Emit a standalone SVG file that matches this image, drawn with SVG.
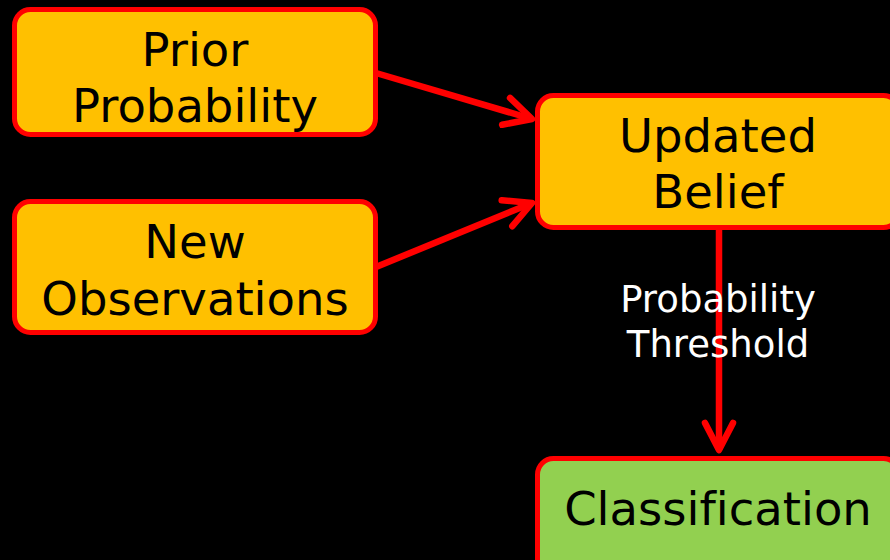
<svg xmlns="http://www.w3.org/2000/svg" width="890" height="560" viewBox="0 0 890 560">
  <style>
    .box { stroke: #FF0000; stroke-width: 5; }
    .yellow { fill: #FFC000; }
    .green { fill: #92D050; }
    .t { font-family: "DejaVu Sans", Verdana, sans-serif; font-size: 46.5px; fill: #000000; text-anchor: middle; font-variant-ligatures: none; }
    .lbl { font-family: "DejaVu Sans", Verdana, sans-serif; font-size: 37px; fill: #FFFFFF; text-anchor: middle; font-variant-ligatures: none; }
    .edge { stroke: #FF0000; stroke-width: 6.5; fill: none; marker-end: url(#arrow); }
  </style>
  <defs>
    <marker id="arrow" markerUnits="userSpaceOnUse" viewBox="-35 -20 40 40" refX="0" refY="0" markerWidth="40" markerHeight="40" orient="auto">
      <path d="M -27,-14 L 0,0 L -27,14" fill="none" stroke="#FF0000" stroke-width="6.5" stroke-linecap="round" stroke-linejoin="round"/>
    </marker>
  </defs>
  <rect x="0" y="0" width="890" height="560" fill="#000000"/>

  <g id="connectors">
    <line class="edge" x1="376" y1="73" x2="532" y2="119"/>
    <line class="edge" x1="376" y1="267" x2="532" y2="203"/>
    <line class="edge" x1="719" y1="228" x2="719" y2="450"/>
  </g>

  <g id="prior">
    <rect class="box yellow" x="14.5" y="9.5" width="361" height="125" rx="16"/>
    <text class="t" x="195" y="66">Prior</text>
    <text class="t" x="195" y="122">Probability</text>
  </g>

  <g id="observations">
    <rect class="box yellow" x="14.5" y="201.5" width="361" height="131" rx="16"/>
    <text class="t" x="195" y="258">New</text>
    <text class="t" x="195" y="315">Observations</text>
  </g>

  <g id="updated">
    <rect class="box yellow" x="537.5" y="95.5" width="362" height="132" rx="16"/>
    <text class="t" x="718" y="152">Updated</text>
    <text class="t" x="718" y="208">Belief</text>
  </g>

  <g id="classification">
    <rect class="box green" x="537.5" y="458.5" width="362" height="120" rx="16"/>
    <text class="t" x="718" y="525">Classification</text>
  </g>

  <g id="edge-label">
    <text class="lbl" x="718" y="312">Probability</text>
    <text class="lbl" x="718" y="357">Threshold</text>
  </g>
</svg>
